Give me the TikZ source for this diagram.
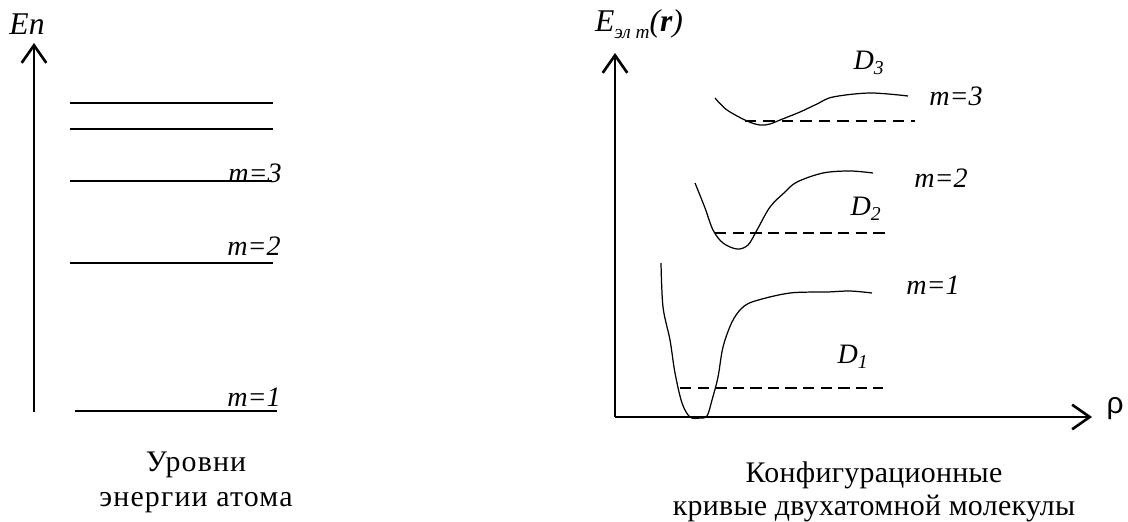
\documentclass[tikz,border=0pt]{standalone}
\usepackage{fontspec}
\setmainfont{Liberation Serif}
\newfontfamily\capfont[LetterSpace=4]{Liberation Serif}
\newfontfamily\capfontb[LetterSpace=1]{Liberation Serif}
\newfontfamily\rhofont{Liberation Sans}
\usetikzlibrary{arrows.meta, positioning}

\begin{document}
\begin{tikzpicture}[
    x=0.02cm, y=-0.02cm,
    >={Straight Barb[length=10pt,width=14pt]},
    % Define styles for the different line types
    axis/.style={line width=1.5pt},
    levelline/.style={line width=0.8pt},
    potcurve/.style={line width=0.7pt},
    dissbold/.style={line width=1.2pt, dash pattern=on 6.5pt off 3.5pt},
    dissthin/.style={line width=0.8pt, dash pattern=on 6.5pt off 4pt},
    lbl/.style={font=\fontsize{16}{18}\selectfont\itshape, inner sep=0pt},
    caption/.style={font=\capfont\fontsize{17}{20}\selectfont, align=center, inner sep=0pt},
]
\useasboundingbox (0,0) rectangle (1128,521);

% -------------------------
% Left: atomic levels
% -------------------------
\coordinate (o1) at (34,412);
\coordinate (top1) at (34,43);
\draw[->, axis] (o1) -- (top1);
\node (en) [lbl, font=\fontsize{18}{20}\selectfont\itshape] at (27,24) {En};

\coordinate (l5a) at (70,103);  \coordinate (l5b) at (273,103);
\coordinate (l4a) at (70,129);  \coordinate (l4b) at (273,129);
\coordinate (l3a) at (70,181);  \coordinate (l3b) at (272,181);
\coordinate (l2a) at (70,263);  \coordinate (l2b) at (273,263);
\coordinate (l1a) at (75,411);  \coordinate (l1b) at (277,411);
\draw[levelline] (l5a) -- (l5b);
\draw[levelline] (l4a) -- (l4b);
\draw[levelline] (l3a) -- (l3b);
\draw[levelline] (l2a) -- (l2b);
\draw[levelline] (l1a) -- (l1b);

\node (am3) [lbl] at (255,173) {m=3};
\node (am2) [lbl] at (254,246) {m=2};
\node (am1) [lbl] at (254,397) {m=1};

\node (capatom) [caption] at (196,482) {Уровни\\энергии атома};

% -------------------------
% Right: potential curves
% -------------------------
\coordinate (o2) at (615,417);
\coordinate (top2) at (615,53);
\coordinate (xend) at (1092,417);
\draw[->, axis] (o2) -- (top2);
\draw[->, axis] (o2) -- (xend);
\node (elabel) [lbl, font=\fontsize{18}{20}\selectfont\itshape] at (639,24) {E\raisebox{-4pt}{\fontsize{11}{12}\selectfont эл m}(\textbf{r})};
\node (rho) [inner sep=0pt, font=\rhofont\fontsize{17}{19}\selectfont] at (1115,409) {ρ};

% curve m=1
\draw[potcurve] plot[smooth, tension=0.55] coordinates {(661,263) (663,307) (670,340) (675,373) (682,403) (690,417) (700,418) (707,416) (712,400) (718,377) (723,347) (732,322) (742,308) (755,301) (790,293) (827,292) (850,291) (872,293)};
% curve m=2
\draw[potcurve] plot[smooth, tension=0.55] coordinates {(695,183) (705,208) (713,230) (723,243) (737,249) (748,245) (757,230) (770,207) (785,192) (797,182) (823,173) (850,171) (873,173)};
% curve m=3
\draw[potcurve] plot[smooth, tension=0.55] coordinates {(715,98) (727,110) (747,121) (760,125) (770,124) (780,120) (800,112) (817,104) (833,97) (870,93) (908,96)};

% dissociation levels
\coordinate (d1a) at (680,388); \coordinate (d1b) at (883,388);
\coordinate (d2a) at (715,233); \coordinate (d2b) at (887,233);
\coordinate (d3a) at (745,121); \coordinate (d3b) at (915,121);
\draw[dissbold] (d1a) -- (d1b);
\draw[dissbold] (d2a) -- (d2b);
\draw[dissthin] (d3a) -- (d3b);

\node (dd1) [lbl] at (853,357) {D\textsubscript{1}};
\node (dd2) [lbl] at (866,209) {D\textsubscript{2}};
\node (dd3) [lbl] at (869,63) {D\textsubscript{3}};

\node (mm3) [lbl] at (956,96) {m=3};
\node (mm2) [lbl] at (941,178) {m=2};
\node (mm1) [lbl] at (933,285) {m=1};

\node (capmol) [caption, font=\capfontb\fontsize{17}{19}\selectfont] at (874,492) {Конфигурационные\\кривые двухатомной молекулы};

\end{tikzpicture}
\end{document}
